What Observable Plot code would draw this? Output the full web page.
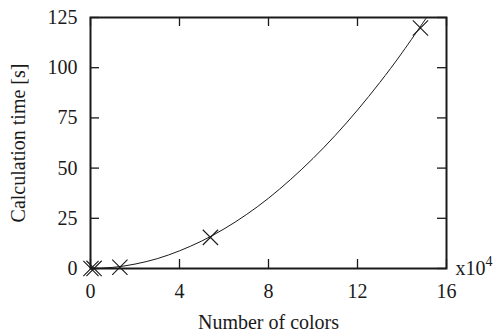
<!DOCTYPE html>
<html>
<head>
<meta charset="utf-8">
<script src="https://cdn.jsdelivr.net/npm/d3@7"></script>
<script src="https://cdn.jsdelivr.net/npm/@observablehq/plot@0.6"></script>
<style>
  html, body { margin: 0; padding: 0; background: white; }
</style>
</head>
<body>
<div id="chart"></div>
<script>
// Measured points (x in units of 10^4 colors, y in seconds)
const pointX = [0.02, 0.16, 1.32, 5.39, 14.83];
const pointY = [0.0, 0.05, 0.6, 15.5, 119.8];

// Fitted curve
const curveX = [0, 1, 2, 3, 4, 5, 6, 7, 8, 9, 10, 11, 12, 13, 14, 15, 15.3];
const curveY = [0, 0.55, 2.2, 4.9, 8.8, 13.7, 19.7, 26.8, 35, 44.4, 54.8, 66.3, 78.9, 92.6, 107.4, 123.3, 128];

const xTicks = [0, 4, 8, 12, 16];
const yTicks = [0, 25, 50, 75, 100, 125];
const xLabel = "Number of colors";
const yLabel = "Calculation time [s]";
const multiplierText = ["x10"];
const exponentText = ["4"];

const points = pointX.map((x, i) => ({x, y: pointY[i]}));
const curve = curveX.map((x, i) => ({x, y: curveY[i]}));

const ink = "#1a1a1a";
const W = 498, H = 333, mL = 90, mR = 52, mT = 17, mB = 65;
const frameH = H - mT - mB, frameW = W - mL - mR;
const tickLen = 9;

const chart = Plot.plot({
  width: W,
  height: H,
  marginLeft: mL,
  marginRight: mR,
  marginTop: mT,
  marginBottom: mB,
  x: {domain: [0, 16]},
  y: {domain: [0, 125]},
  style: {fontFamily: "'Liberation Serif', 'DejaVu Serif', serif", fontSize: "20px", color: ink, background: "white"},
  marks: [
    // inward ticks on all four sides
    Plot.ruleX(xTicks, {x: d => d, insetTop: frameH - tickLen, stroke: ink, strokeWidth: 1.3}),
    Plot.ruleX(xTicks, {x: d => d, insetBottom: frameH - tickLen, stroke: ink, strokeWidth: 1.3}),
    Plot.ruleY(yTicks, {y: d => d, insetRight: frameW - tickLen, stroke: ink, strokeWidth: 1.3}),
    Plot.ruleY(yTicks, {y: d => d, insetLeft: frameW - tickLen, stroke: ink, strokeWidth: 1.3}),
    Plot.axisX(xTicks, {tickSize: 0, tickPadding: 15, fontSize: 20, label: xLabel, labelAnchor: "center", labelOffset: 60, labelArrow: "none"}),
    Plot.axisY(yTicks, {tickSize: 0, tickPadding: 13, fontSize: 20, label: yLabel, labelAnchor: "center", labelOffset: 80, labelArrow: "none"}),
    Plot.line(curve, {x: "x", y: "y", curve: "natural", stroke: ink, strokeWidth: 1, clip: true}),
    Plot.dot(points, {x: "x", y: "y", symbol: "times", r: 7, stroke: ink, strokeWidth: 1.1}),
    Plot.frame({stroke: ink, strokeWidth: 2}),
    Plot.text(multiplierText, {text: d => d, frameAnchor: "bottom-right", dx: 9, dy: 0, textAnchor: "start", lineAnchor: "middle", fontSize: 20, fill: ink}),
    Plot.text(exponentText, {text: d => d, frameAnchor: "bottom-right", dx: 39, dy: -7, textAnchor: "start", lineAnchor: "middle", fontSize: 14, fill: ink})
  ]
});
document.getElementById("chart").appendChild(chart);
</script>
</body>
</html>
